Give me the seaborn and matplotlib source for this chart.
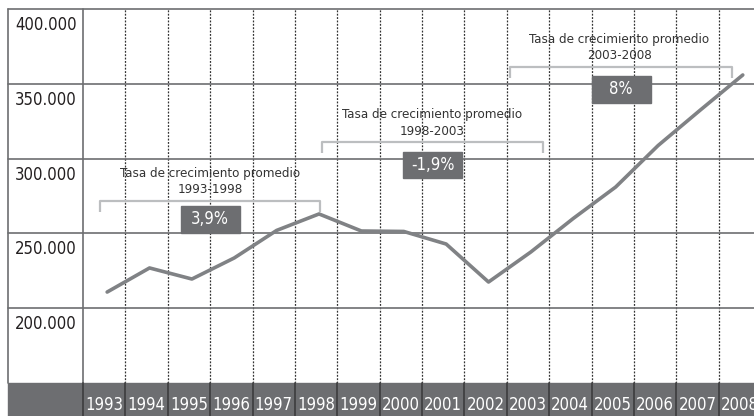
import matplotlib
matplotlib.use("Agg")
import matplotlib.pyplot as plt
import matplotlib.patches as mpatches
import numpy as np
import pandas as pd
import seaborn as sns

# ── data ──────────────────────────────────────────────────────────────────────
years  = [1993, 1994, 1995, 1996, 1997, 1998, 1999, 2000,
          2001, 2002, 2003, 2004, 2005, 2006, 2007, 2008]
values = [260800, 276900, 269500, 283600, 302000, 313000, 301600, 301300,
          292900, 267500, 287600, 310000, 331000, 358700, 382500, 405900]

ytick_values = [400000, 350000, 300000, 250000, 200000]
ytick_labels = ["400.000", "350.000", "300.000", "250.000", "200.000"]

periods      = ["1993-1998", "1998-2003", "2003-2008"]
growth_rates = ["3,9%", "-1,9%", "8%"]

# ── styling ───────────────────────────────────────────────────────────────────
LINE   = "#808285"
GRID   = "#6d6e71"
BAND   = "#6d6e71"
BRACK  = "#bcbec0"
TEXT   = "#231f20"

W, H = 754, 416
sns.set_style("white")
plt.rcParams["font.family"] = ["DejaVu Sans"]
plt.rcParams["font.stretch"] = "condensed"

fig = plt.figure(figsize=(W / 100, H / 100), dpi=100)
# plot area in pixels: x 83 → 761 (runs past the right edge), y 9 → 383
ax = fig.add_axes([83 / W, (H - 383) / H, 678 / W, 374 / H])
ax.set_xlim(1992.5, 2008.5)
ax.set_ylim(200000, 450000)

df = pd.DataFrame({"year": np.array(years) + 0.07, "value": values})
sns.lineplot(data=df, x="year", y="value", ax=ax, color=LINE, lw=2.6,
             zorder=5)

for s in ax.spines.values():
    s.set_visible(False)
ax.set_xlabel("")
ax.set_ylabel("")
ax.set_yticks([])

# left column (label cells) sits left of the axes
left_x = -75 / 678
ytr = ax.get_yaxis_transform()
xtr = ax.get_xaxis_transform()

# horizontal rules (row borders), including top frame
for v in [250000, 300000, 350000, 400000, 450000]:
    ax.plot([left_x, 1], [v, v], transform=ytr, color=GRID, lw=1.2,
            clip_on=False, zorder=2)

# solid vertical frame lines
for xa in [left_x, 0]:
    ax.plot([xa, xa], [0, 1], transform=ax.transAxes, color=GRID, lw=1.2,
            clip_on=False, zorder=2)

# dotted column separators
for b in np.arange(1993.5, 2008.5, 1):
    ax.plot([b, b], [0, 1], transform=xtr, color="#333333", lw=0.9,
            ls=(0, (1.5, 1.2)), clip_on=False, zorder=1)

# bottom dark band with year cells
band_h = 33 / 374
ax.add_patch(mpatches.Rectangle((left_x, -band_h), 1 - left_x, band_h,
                                transform=ax.transAxes, color=BAND,
                                clip_on=False, zorder=3))
for b in np.arange(1992.5, 2009.5, 1):
    ax.plot([b, b], [-band_h, 0], transform=xtr, color="#3c3c3e", lw=1.2,
            clip_on=False, zorder=4)

ax.set_xticks(years)
ax.set_xticklabels([str(y) for y in years])
ax.tick_params(axis="x", length=0, pad=9, labelsize=12, labelcolor="white")
ax.xaxis.set_zorder(10)

# y labels sit near the top of each row cell
for v, lab in zip(ytick_values, ytick_labels):
    ax.text(-37 / 678, v + 39300, lab, transform=ytr, ha="center",
            va="center", fontsize=12, color=TEXT, clip_on=False)

# ── growth annotations ────────────────────────────────────────────────────────
# (bracket x0, x1, y top, tick drop, text x, text y, box x, box y)
ann_pos = [
    (1992.90, 1998.09, 321700, 7400, 1995.50, 334700, 1995.50, 309300),
    (1998.14, 2003.36, 361100, 7400, 2000.74, 373800, 2000.75, 345700),
    (2002.58, 2007.82, 411200, 7400, 2005.15, 424200, 2005.20, 396500),
]
box_w, box_h = 1.39, 18000

for (x0, x1, yb, drop, tx, ty, bx, by), per, rate in zip(ann_pos, periods,
                                                          growth_rates):
    ax.plot([x0, x0, x1, x1], [yb - drop, yb, yb, yb - drop], color=BRACK,
            lw=1.6, solid_capstyle="butt", zorder=6)
    ax.text(tx, ty, "Tasa de crecimiento promedio\n" + per, ha="center",
            va="center", fontsize=9.5, color="#333333", linespacing=1.35,
            zorder=7)
    ax.add_patch(mpatches.Rectangle((bx - box_w / 2, by - box_h / 2), box_w,
                                    box_h, color=BAND, zorder=7))
    ax.text(bx, by, rate, ha="center", va="center", fontsize=12,
            color="white", zorder=8)

fig.savefig("out.png", dpi=100)
